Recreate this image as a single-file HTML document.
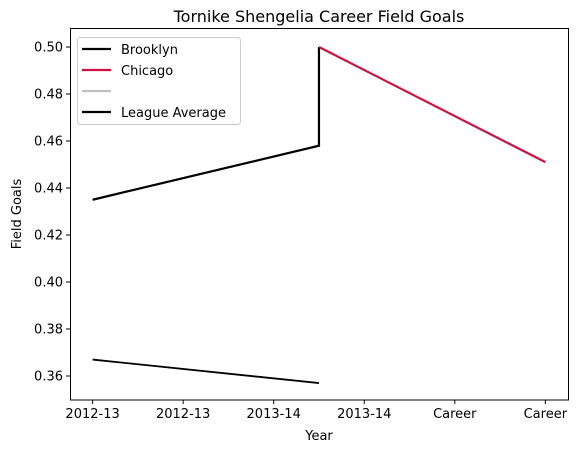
<!DOCTYPE html>
<html><head><meta charset="utf-8"><style>
body{margin:0;background:#fff;font-family:"DejaVu Sans","Liberation Sans",sans-serif;}
svg text{font-family:"DejaVu Sans","Liberation Sans",sans-serif;}
</style></head><body>
<svg width="579" height="453" xmlns="http://www.w3.org/2000/svg">
<rect width="579" height="453" fill="#fff"/>
<text x="319" y="22" font-size="16" text-anchor="middle">Tornike Shengelia Career Field Goals</text>
<g id="plot"></g>
<rect x="70.5" y="28.5" width="498" height="371.5" fill="none" stroke="#000" stroke-width="1"/>
<text x="319" y="440" font-size="13" text-anchor="middle">Year</text>
<text transform="translate(21,214) rotate(-90)" font-size="13" text-anchor="middle">Field Goals</text>
<g>
<rect x="77.5" y="37.5" width="163" height="87" rx="3" fill="#fff" fill-opacity="0.8" stroke="#ccc"/>
<line x1="82" y1="49" x2="111" y2="49" stroke="#000" stroke-width="2.2"/>
<text x="121" y="54" font-size="13">Brooklyn</text>
<line x1="82" y1="70" x2="111" y2="70" stroke="#ce1141" stroke-width="2.2"/>
<text x="121" y="75" font-size="13">Chicago</text>
<line x1="82" y1="91" x2="111" y2="91" stroke="#bfbfbf" stroke-width="2.2"/>
<line x1="82" y1="112" x2="111" y2="112" stroke="#000" stroke-width="2.2"/>
<text x="121" y="117" font-size="13">League Average</text>
</g>
</svg>
<script>
const xTickLabels=["2012-13","2012-13","2013-14","2013-14","Career","Career"];
const yTicks=[0.36,0.38,0.40,0.42,0.44,0.46,0.48,0.50];
const brooklynX=[0,2.5,2.5];
const brooklynY=[0.435,0.458,0.500];
const chicagoX=[2.5,5];
const chicagoY=[0.500,0.451];
const leagueX=[0,2.5];
const leagueY=[0.367,0.357];
const NS="http://www.w3.org/2000/svg";
const g=document.getElementById('plot');
function sx(v){return 92.6+v*90.55;}
function sy(v){return 376-(v-0.36)*2350;}
function mk(t,a){const e=document.createElementNS(NS,t);for(const k in a)e.setAttribute(k,a[k]);g.appendChild(e);return e;}
xTickLabels.forEach((l,i)=>{const x=sx(i);
const t=mk('line',{x1:x,y1:400,x2:x,y2:404,stroke:'#000'});


const tx=mk('text',{x:x,y:418,'font-size':13,'text-anchor':'middle'});tx.textContent=l;

});
yTicks.forEach(v=>{const y=sy(v);
const t=mk('line',{x1:66,y1:y,x2:70,y2:y,stroke:'#000'});


const tx=mk('text',{x:63,y:y+4.5,'font-size':13,'text-anchor':'end'});tx.textContent=v.toFixed(2);

});
function line(xs,ys,c,w,name){const p=mk('polyline',{points:xs.map((x,i)=>sx(x)+','+sy(ys[i])).join(' '),fill:'none',stroke:c,'stroke-width':w});

}
line(leagueX,leagueY,'#000',1.8,'league-average-line');
line(brooklynX,brooklynY,'#000',2.2,'brooklyn-line');
line(chicagoX,chicagoY,'#ce1141',2.2,'chicago-line');
</script>
</body></html>
